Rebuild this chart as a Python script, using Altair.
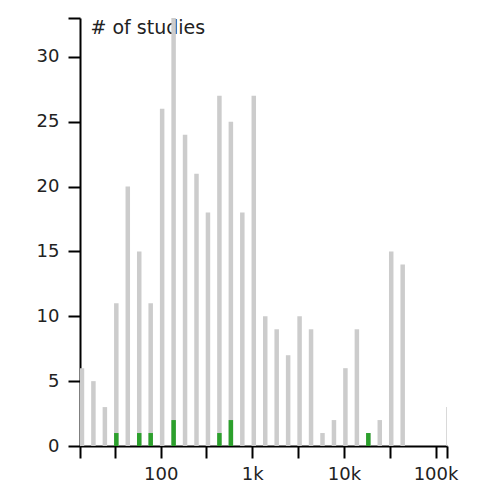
import altair as alt
import pandas as pd

# bin starts (log10 eighth-decade bins)
bin_start = [13.34, 17.78, 23.71, 31.62, 42.17, 56.23, 74.99, 100, 133.4, 177.8,
             237.1, 316.2, 421.7, 562.3, 749.9, 1000, 1334, 1778, 2371, 3162,
             4217, 5623, 7499, 10000, 13335, 17783, 23714, 31623, 42170, 133352]
all_studies = [6, 5, 3, 11, 20, 15, 11, 26, 33, 24,
               21, 18, 27, 25, 18, 27, 10, 9, 7, 10,
               9, 1, 2, 6, 9, 1, 2, 15, 14, 3]
highlight = [0, 0, 0, 1, 0, 1, 1, 0, 2, 0,
             0, 0, 1, 2, 0, 0, 0, 0, 0, 0,
             0, 0, 0, 0, 0, 1, 0, 0, 0, 0]

x_domain = [13.18, 133352]
y_domain = [0, 33]
x_ticks = [13.18, 31.6228, 100, 316.228, 1000, 3162.28, 10000, 31622.8, 100000, 133352]
y_ticks = [0, 5, 10, 15, 20, 25, 30, 33]

df = pd.DataFrame({"bin": bin_start, "n": all_studies, "h": highlight})

FONT = "DejaVu Sans"

x_enc = alt.X(
    "bin:Q",
    scale=alt.Scale(type="log", domain=x_domain, nice=False, padding=0),
    axis=alt.Axis(
        values=x_ticks,
        labelExpr="datum.value == 100 ? '100' : datum.value == 1000 ? '1k' : datum.value == 10000 ? '10k' : datum.value == 100000 ? '100k' : ''",
        title=None,
        grid=False,
        domainColor="black", domainWidth=2,
        tickColor="black", tickWidth=2, tickSize=12,
        labelFont=FONT, labelFontSize=18, labelColor="#222",
        labelPadding=7, labelOverlap=False, labelFlush=False,
    ),
)

y_axis = alt.Axis(
    values=y_ticks,
    labelExpr="datum.value == 33 ? '' : datum.label",
    title="# of studies",
    titleAngle=0, titleX=10, titleY=0, titleAlign="left", titleBaseline="top",
    titleFont=FONT, titleFontSize=19, titleFontWeight="normal", titleColor="#222",
    grid=False,
    domainColor="black", domainWidth=2,
    tickColor="black", tickWidth=2, tickSize=12,
    labelFont=FONT, labelFontSize=18, labelColor="#222", labelPadding=9,
)

base = alt.Chart(df)

gray = base.mark_bar(color="#cccccc", size=4.5, xOffset=1.5, clip=True).encode(
    x=x_enc,
    y=alt.Y("n:Q", scale=alt.Scale(domain=y_domain, nice=False, padding=0), axis=y_axis),
)

green = base.transform_filter("datum.h > 0").mark_bar(
    color="#2ca02c", size=4.5, xOffset=1.5, clip=True
).encode(
    x=alt.X("bin:Q"),
    y=alt.Y("h:Q"),
)

chart = (gray + green).properties(
    width=367, height=428,
    autosize=alt.AutoSizeParams(type="none"),
    padding={"left": 72, "top": 10, "right": 20, "bottom": 36},
).configure_view(stroke=None)

chart.save("out.html", embed_options={"renderer": "svg", "actions": False})
